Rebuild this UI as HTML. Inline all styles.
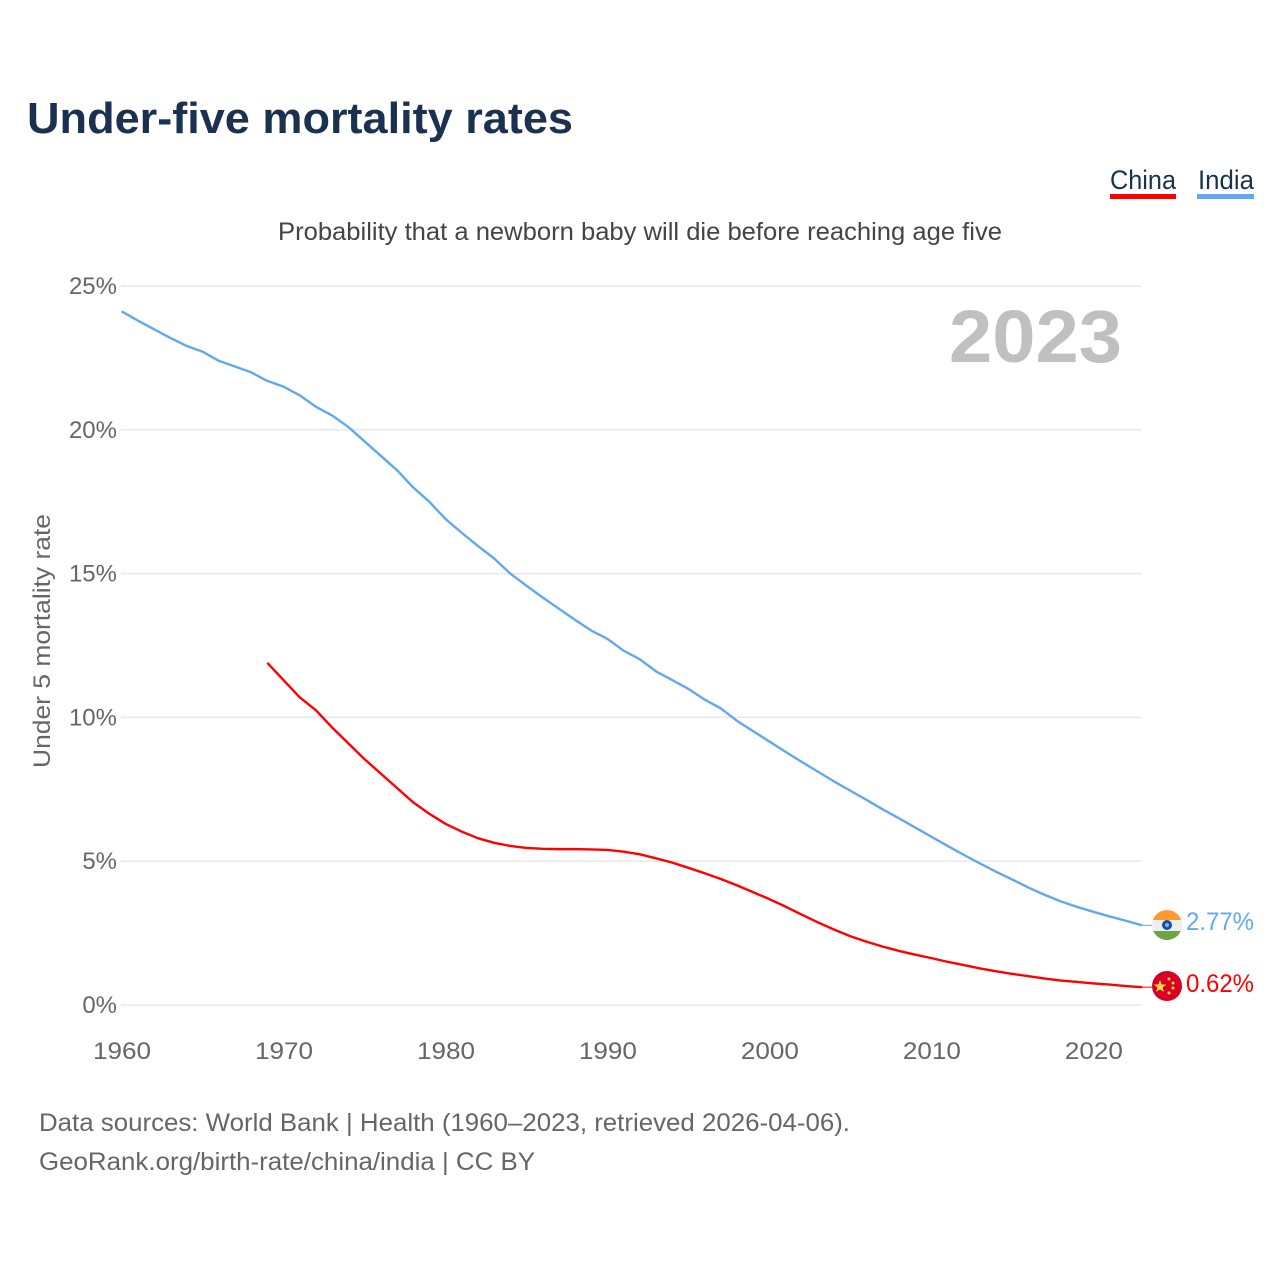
<!DOCTYPE html>
<html lang="en">
<head>
<meta charset="utf-8">
<title>Under-five mortality rates</title>
<style>
html,body{margin:0;padding:0;background:#fff;width:1280px;height:1280px;overflow:hidden}
svg{display:block;font-family:"Liberation Sans",sans-serif}
</style>
</head>
<body>
<svg id="chart" width="1280" height="1280" viewBox="0 0 1280 1280">
  <text x="27" y="133" font-size="44" font-weight="700" fill="#1a3150" textLength="546" lengthAdjust="spacingAndGlyphs">Under-five mortality rates</text>
  <text x="1110" y="189" font-size="27" fill="#1a3150" textLength="66" lengthAdjust="spacingAndGlyphs">China</text>
  <rect x="1110" y="194" width="66" height="5" fill="#ff0000"/>
  <text x="1198" y="189" font-size="27" fill="#1a3150" textLength="56" lengthAdjust="spacingAndGlyphs">India</text>
  <rect x="1197" y="194" width="57" height="5" fill="#62a8ef"/>
  <text x="278" y="240" font-size="25" fill="#444" textLength="724" lengthAdjust="spacingAndGlyphs">Probability that a newborn baby will die before reaching age five</text>
  <text x="949" y="362" font-size="74" font-weight="700" fill="#c0c0c0" textLength="173" lengthAdjust="spacingAndGlyphs">2023</text>
  <text transform="translate(50,768) rotate(-90)" font-size="24" fill="#666" textLength="254" lengthAdjust="spacingAndGlyphs">Under 5 mortality rate</text>
  <g id="grid"></g>
  <g id="xaxis"></g>
  <g id="lines"></g>

  <g>
    <clipPath id="clip-in"><circle cx="1167" cy="925" r="15"/></clipPath>
    <g clip-path="url(#clip-in)">
      <rect x="1152" y="910" width="30" height="10" fill="#ff9a2e"/>
      <rect x="1152" y="920" width="30" height="11" fill="#eeeeee"/>
      <rect x="1152" y="931" width="30" height="10" fill="#6da544"/>
    </g>
    <circle cx="1167" cy="925" r="5" fill="#0f4fa8"/>
    <circle cx="1167" cy="925" r="2" fill="#8fb0dc"/>
  </g>
  <g>
    <circle cx="1167" cy="986" r="15" fill="#d80027"/>
    <polygon points="1160,980 1161.6,984.4 1166.3,984.6 1162.6,987.5 1163.9,992 1160,989.4 1156.1,992 1157.4,987.5 1153.7,984.6 1158.4,984.4" fill="#ffda44"/>
    <circle cx="1169" cy="979" r="1.5" fill="#ffda44"/>
    <circle cx="1173" cy="983" r="1.5" fill="#ffda44"/>
    <circle cx="1173" cy="988" r="1.5" fill="#ffda44"/>
    <circle cx="1169" cy="993" r="1.5" fill="#ffda44"/>
  </g>
  <text x="1186" y="930" font-size="25" fill="#62a8ef" textLength="68" lengthAdjust="spacingAndGlyphs">2.77%</text>
  <text x="1186" y="992" font-size="25" fill="#ff0000" textLength="68" lengthAdjust="spacingAndGlyphs">0.62%</text>

  <text x="39" y="1131" font-size="25" fill="#666" textLength="811" lengthAdjust="spacingAndGlyphs">Data sources: World Bank | Health (1960–2023, retrieved 2026-04-06).</text>
  <text x="39" y="1170" font-size="25" fill="#666" textLength="496" lengthAdjust="spacingAndGlyphs">GeoRank.org/birth-rate/china/india | CC BY</text>
</svg>
<script>
const yTicks = [0, 5, 10, 15, 20, 25];
const xTicks = [1960, 1970, 1980, 1990, 2000, 2010, 2020];
const indiaStartYear = 1960;
const indiaValues = [24.12,23.8,23.5,23.2,22.92,22.72,22.4,22.2,22.0,21.7,21.5,21.2,20.8,20.5,20.1,19.6,19.1,18.6,18.0,17.5,16.9,16.42,15.96,15.53,15.0,14.58,14.17,13.78,13.39,13.02,12.73,12.32,12.02,11.6,11.3,10.99,10.62,10.31,9.88,9.52,9.16,8.8,8.45,8.11,7.77,7.45,7.13,6.8,6.49,6.17,5.85,5.53,5.22,4.92,4.63,4.36,4.08,3.83,3.6,3.41,3.24,3.08,2.93,2.77];
const chinaStartYear = 1969;
const chinaValues = [11.9,11.3,10.7,10.25,9.65,9.1,8.55,8.05,7.55,7.05,6.65,6.3,6.03,5.8,5.64,5.53,5.46,5.43,5.42,5.42,5.41,5.39,5.33,5.24,5.1,4.95,4.77,4.58,4.38,4.16,3.92,3.68,3.42,3.14,2.87,2.62,2.39,2.2,2.03,1.88,1.75,1.63,1.5,1.39,1.27,1.17,1.08,1.0,0.92,0.85,0.8,0.75,0.71,0.66,0.62];

const NS = 'http://www.w3.org/2000/svg';
function xScale(year) { return 121.5 + (year - 1960) * (1142 - 121.5) / 63; }
function yScale(v) { return 1005 - v * (1005 - 286) / 25; }

const grid = document.getElementById('grid');
yTicks.forEach(function (t) {
  const line = document.createElementNS(NS, 'line');
  line.setAttribute('x1', 121);
  line.setAttribute('x2', 1142);
  line.setAttribute('y1', yScale(t));
  line.setAttribute('y2', yScale(t));
  line.setAttribute('stroke', '#e9e9ec');
  line.setAttribute('stroke-width', 1.5);
  
  
  grid.appendChild(line);
  const label = document.createElementNS(NS, 'text');
  label.setAttribute('x', 117);
  label.setAttribute('y', yScale(t) + 8);
  label.setAttribute('text-anchor', 'end');
  label.setAttribute('font-size', 24);
  label.setAttribute('fill', '#666');
  
  
  label.textContent = t + '%';
  grid.appendChild(label);
});

const xaxis = document.getElementById('xaxis');
xTicks.forEach(function (t) {
  const label = document.createElementNS(NS, 'text');
  label.setAttribute('x', xScale(t) - 28.5);
  label.setAttribute('y', 1059);
  label.setAttribute('font-size', 24);
  label.setAttribute('fill', '#666');
  label.setAttribute('textLength', 58);
  label.setAttribute('lengthAdjust', 'spacingAndGlyphs');
  
  
  label.textContent = t;
  xaxis.appendChild(label);
});

function drawSeries(values, startYear, color, name) {
  const path = document.createElementNS(NS, 'path');
  const d = values.map(function (v, i) {
    return (i ? 'L' : 'M') + xScale(startYear + i).toFixed(2) + ' ' + yScale(v).toFixed(2);
  }).join(' ');
  path.setAttribute('d', d);
  path.setAttribute('fill', 'none');
  path.setAttribute('stroke', color);
  path.setAttribute('stroke-width', 2.4);
  path.setAttribute('stroke-linejoin', 'round');
  
  
  document.getElementById('lines').appendChild(path);
}
function drawConnector(value, color, name) {
  const c = document.createElementNS(NS, 'line');
  c.setAttribute('x1', xScale(2023));
  c.setAttribute('x2', 1152);
  c.setAttribute('y1', yScale(value));
  c.setAttribute('y2', yScale(value));
  c.setAttribute('stroke', color);
  c.setAttribute('stroke-width', 1);
  
  
  document.getElementById('lines').appendChild(c);
}
drawSeries(indiaValues, indiaStartYear, '#62a8ef', 'india-line');
drawSeries(chinaValues, chinaStartYear, '#ff0000', 'china-line');
drawConnector(indiaValues[indiaValues.length - 1], '#62a8ef', 'india-connector');
drawConnector(chinaValues[chinaValues.length - 1], '#ff0000', 'china-connector');
</script>
</body>
</html>
